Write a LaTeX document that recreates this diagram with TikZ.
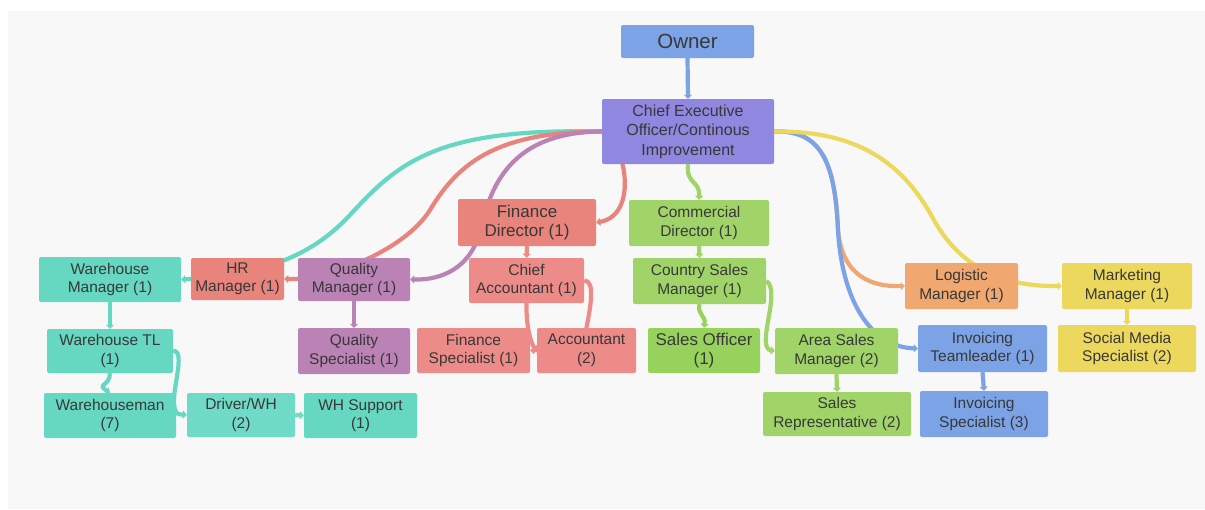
\documentclass[tikz,border=0pt]{standalone}
\usepackage{fontspec}
\setmainfont{Liberation Sans}
\usetikzlibrary{arrows.meta}

\definecolor{panelgrey}{HTML}{F8F8F8}
\definecolor{inktext}{HTML}{383838}
\definecolor{ownerblue}{HTML}{7BA3E6}
\definecolor{ceopurple}{HTML}{8F87E0}
\definecolor{finred}{HTML}{E8847C}
\definecolor{acctred}{HTML}{EC8B88}
\definecolor{salesgreen}{HTML}{A0D468}
\definecolor{officergreen}{HTML}{97D35C}
\definecolor{whteal}{HTML}{66D8C1}
\definecolor{driverteal}{HTML}{6FDBC7}
\definecolor{qualpurple}{HTML}{BA82B5}
\definecolor{logorange}{HTML}{F0A870}
\definecolor{mktyellow}{HTML}{EDD85E}

\pgfdeclarelayer{panel}
\pgfdeclarelayer{links}
\pgfsetlayers{panel,links,main}

\tikzset{
  box/.style={rectangle, rounded corners=2pt, align=center, inner sep=0pt,
    text=inktext, font=\fontsize{15.5}{18.5}\selectfont},
  sz/.style 2 args={minimum width=#1pt, minimum height=#2pt},
  link/.style={line width=4.2pt, -{Triangle[length=4pt,width=8pt]}},
}

\begin{document}
\begin{tikzpicture}[x=1pt, y=-1pt]
    \useasboundingbox (0,0) rectangle (1205,509);
    \begin{pgfonlayer}{panel}
      \fill[panelgrey] (8,11) rectangle (1205,509);
    \end{pgfonlayer}

    % top
    \node[box, fill=ownerblue, sz={133}{33}, font=\fontsize{20.5}{24}\selectfont] (owner) at (687.5,41.5) {Owner};
    \node[box, fill=ceopurple, sz={172}{65}, font=\fontsize{16}{19.5}\selectfont] (ceo) at (688,131.5) {Chief Executive\\Officer/Continous\\Improvement};

    % directors
    \node[box, fill=finred, sz={138}{47}, font=\fontsize{17}{19}\selectfont] (findir) at (527,222.5) {Finance\\Director (1)};
    \node[box, fill=salesgreen, sz={140}{46}] (comdir) at (699,223) {Commercial\\Director (1)};

    % managers
    \node[box, fill=whteal, sz={142}{45}] (whmgr) at (110,279.5) {Warehouse\\Manager (1)};
    \node[box, fill=finred, sz={93}{42}] (hrmgr) at (237.5,279) {HR\\Manager (1)};
    \node[box, fill=qualpurple, sz={112}{43}] (qmgr) at (354,279.5) {Quality\\Manager (1)};
    \node[box, fill=acctred, sz={115}{45}] (chiefacc) at (526.5,280.5) {Chief\\Accountant (1)};
    \node[box, fill=salesgreen, sz={133}{46}] (csmgr) at (699.5,281) {Country Sales\\Manager (1)};
    \node[box, fill=logorange, sz={113}{46}] (logmgr) at (961.5,286) {Logistic\\Manager (1)};
    \node[box, fill=mktyellow, sz={130}{46}] (mktmgr) at (1127,286) {Marketing\\Manager (1)};

    % second row
    \node[box, fill=whteal, sz={126}{44}] (whtl) at (110,351) {Warehouse TL\\(1)};
    \node[box, fill=qualpurple, sz={112}{46}] (qspec) at (354,351) {Quality\\Specialist (1)};
    \node[box, fill=acctred, sz={113}{45}] (finspec) at (473.5,350.5) {Finance\\Specialist (1)};
    \node[box, fill=acctred, sz={99}{45}] (acct) at (586.5,350.5) {Accountant\\(2)};
    \node[box, fill=officergreen, sz={112}{45}, font=\fontsize{17}{19}\selectfont] (salesoff) at (704,350.5) {Sales Officer\\(1)};
    \node[box, fill=salesgreen, sz={123}{46}] (areamgr) at (836.5,351) {Area Sales\\Manager (2)};
    \node[box, fill=ownerblue, sz={129}{47}] (invtl) at (982.5,348.5) {Invoicing\\Teamleader (1)};
    \node[box, fill=mktyellow, sz={138}{47}] (socmed) at (1127,348.5) {Social Media\\Specialist (2)};

    % third row
    \node[box, fill=whteal, sz={132}{45}] (whman) at (110,415.5) {Warehouseman\\(7)};
    \node[box, fill=driverteal, sz={108}{44}] (driver) at (241,415) {Driver/WH\\(2)};
    \node[box, fill=whteal, sz={113}{45}] (whsup) at (360.5,415.5) {WH Support\\(1)};
    \node[box, fill=salesgreen, sz={148}{44}] (salesrep) at (837,414) {Sales\\Representative (2)};
    \node[box, fill=ownerblue, sz={128}{46}] (invspec) at (984,414) {Invoicing\\Specialist (3)};

    \begin{pgfonlayer}{links}
      \draw[link, ownerblue] (owner.south) -- (ceo.north);
      % from the CEO, left side
      \draw[link, whteal] (ceo.west) .. controls (440,128) and (400,160) .. (350,215) .. controls (310,258) and (260,275) .. (whmgr.east);
      \draw[link, finred] (ceo.west) .. controls (500,132) and (460,160) .. (430,210) .. controls (405,250) and (330,280) .. (hrmgr.east);
      \draw[link, qualpurple] (ceo.west) .. controls (530,132) and (495,165) .. (482,225) .. controls (472,270) and (440,280) .. (qmgr.east);
      \draw[link, finred] (ceo.west) .. controls (625,140) and (640,215) .. (findir.east);
      % from the CEO, right side
      \draw[link, salesgreen] (ceo.south) .. controls (686,185) and (700,180) .. (comdir.north);
      \draw[link, logorange] (ceo.east) .. controls (820,130) and (835,160) .. (838,230) .. controls (842,275) and (870,287) .. (logmgr.west);
      \draw[link, ownerblue] (ceo.east) .. controls (820,130) and (835,160) .. (838,230) .. controls (842,300) and (870,347) .. (invtl.west);
      \draw[link, mktyellow] (ceo.east) .. controls (870,130) and (910,175) .. (935,222) .. controls (960,265) and (1000,287) .. (mktmgr.west);
      % finance
      \draw[link, acctred] (findir.south) -- (chiefacc.north);
      \draw[link, acctred] (chiefacc.south) .. controls (526,330) and (532,345) .. (acct.west);
      \draw[link, acctred] (chiefacc.east) .. controls (596,280) and (590,310) .. (586,330) .. controls (580,350) and (545,350) .. (finspec.east);
      \draw[link, qualpurple] (qmgr.south) -- (qspec.north);
      % warehouse
      \draw[link, whteal] (whmgr.south) -- (whtl.north);
      \draw[link, whteal] (whtl.south) .. controls (110,386) and (96,384) .. (whman.north);
      \draw[link, whteal] (whtl.east) .. controls (186,350) and (172,390) .. (174,405) .. controls (176,414) .. (driver.west);
      \draw[link, driverteal] (driver.east) -- (whsup.west);
      % sales
      \draw[link, salesgreen] (comdir.south) -- (csmgr.north);
      \draw[link, officergreen] (csmgr.south) .. controls (697,315) and (706,315) .. (salesoff.north);
      \draw[link, salesgreen] (csmgr.east) .. controls (782,290) and (755,348) .. (areamgr.west);
      \draw[link, salesgreen] (areamgr.south) -- (salesrep.north);
      \draw[link, ownerblue] (invtl.south) -- (invspec.north);
      \draw[link, mktyellow] (mktmgr.south) -- (socmed.north);
    \end{pgfonlayer}
\end{tikzpicture}
\end{document}
